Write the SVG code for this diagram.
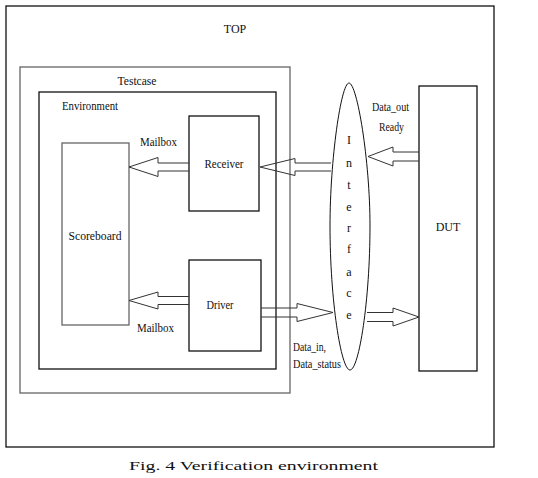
<svg xmlns="http://www.w3.org/2000/svg" width="538" height="478" viewBox="0 0 538 478">
<style>
text{font-family:"Liberation Serif","Times New Roman",serif;font-size:12px;fill:#111}
.box{fill:none;stroke:#111;stroke-width:1.3}
.gbox{fill:none;stroke:#666;stroke-width:1.3}
.arr{fill:none;stroke:#333;stroke-width:1}
.c{text-anchor:middle}
</style>
<rect width="538" height="478" fill="#fff"/>
<g id="top">
<rect class="box" x="6" y="6" width="488" height="441"/>
<text class="c" x="235" y="33">TOP</text>
</g>
<g id="testcase">
<rect class="gbox" x="20" y="67" width="270" height="326"/>
<text class="c" x="137" y="85" textLength="39" lengthAdjust="spacingAndGlyphs">Testcase</text>
</g>
<g id="environment">
<rect class="box" x="39" y="92" width="237" height="277"/>
<text x="62" y="110" textLength="56" lengthAdjust="spacingAndGlyphs">Environment</text>
</g>
<g id="scoreboard">
<rect class="gbox" x="62" y="143" width="67" height="182"/>
<text class="c" x="95" y="240" textLength="53" lengthAdjust="spacingAndGlyphs">Scoreboard</text>
</g>
<g id="receiver">
<rect class="box" x="189" y="116" width="70" height="95" stroke="#333"/>
<text class="c" x="224" y="168" textLength="39" lengthAdjust="spacingAndGlyphs">Receiver</text>
</g>
<g id="driver">
<rect class="box" x="189" y="260" width="72" height="91" stroke="#333"/>
<text class="c" x="220" y="309" textLength="27" lengthAdjust="spacingAndGlyphs">Driver</text>
</g>
<g id="dut">
<rect class="box" x="419" y="86" width="58" height="285"/>
<text class="c" x="448" y="231">DUT</text>
</g>
<g id="interface">
<path d="M349,83 C341,83 330,160 330,226 C330,300 341,370 350,370 C359,370 370,300 370,226 C370,160 357,83 349,83 Z" fill="none" stroke="#111" stroke-width="1"/>
<text class="c" x="349" y="144">I</text>
<text class="c" x="349" y="167">n</text>
<text class="c" x="349" y="189">t</text>
<text class="c" x="349" y="211">e</text>
<text class="c" x="349" y="232">r</text>
<text class="c" x="349" y="253">f</text>
<text class="c" x="349" y="276">a</text>
<text class="c" x="349" y="297">c</text>
<text class="c" x="349" y="319">e</text>
</g>
<g id="connectors">
<path class="arr" d="M189,163 H158 V157.5 L129,167 L158,176.5 V171 H189"/>
<path class="arr" d="M331,163 H295 V158.5 L260,167 L295,175.5 V171 H331"/>
<path class="arr" d="M419,152 H393 V147 L368,156.5 L393,166 V161 H419"/>
<path class="arr" d="M189,296.5 H158 V292 L129,300.5 L158,309 V304.5 H189"/>
<path class="arr" d="M261,308 H297 V303.5 L333,312.5 L297,321.5 V317 H261"/>
<path class="arr" d="M367,312.5 H393 V308 L419,317 L393,326 V321.5 H367"/>
</g>
<g id="labels">
<text x="140" y="146" textLength="37" lengthAdjust="spacingAndGlyphs">Mailbox</text>
<text x="137" y="332" textLength="37" lengthAdjust="spacingAndGlyphs">Mailbox</text>
<text x="372" y="111" font-size="11" textLength="37" lengthAdjust="spacingAndGlyphs">Data_out</text>
<text x="379" y="131" font-size="11" textLength="25" lengthAdjust="spacingAndGlyphs">Ready</text>
<text x="293" y="351" font-size="11" textLength="33" lengthAdjust="spacingAndGlyphs">Data_in,</text>
<text x="293" y="368" font-size="11" textLength="48" lengthAdjust="spacingAndGlyphs">Data_status</text>
</g>
<text x="129" y="470" font-size="18" textLength="249" lengthAdjust="spacingAndGlyphs">Fig. 4 Verification environment</text>
</svg>
